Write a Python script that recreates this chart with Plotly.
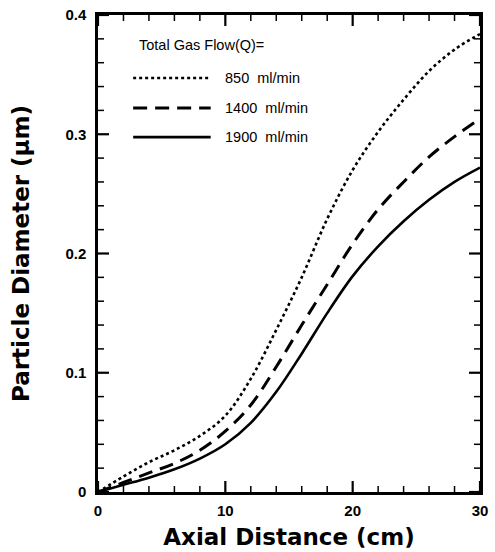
import plotly.graph_objects as go

# Axial positions (cm) and particle diameters (um) for three total gas flows
axial_cm = [0, 2, 4, 6, 8, 10, 12, 14, 16, 18, 20, 22, 24, 26, 28, 30]
d_850 = [0, 0.013, 0.025, 0.035, 0.047, 0.064, 0.095, 0.136, 0.180, 0.229,
         0.270, 0.302, 0.329, 0.353, 0.371, 0.384]
d_1400 = [0, 0.008, 0.016, 0.024, 0.035, 0.051, 0.073, 0.105, 0.140, 0.174,
          0.208, 0.237, 0.260, 0.281, 0.298, 0.313]
d_1900 = [0, 0.006, 0.012, 0.019, 0.028, 0.040, 0.058, 0.084, 0.116, 0.150,
          0.181, 0.206, 0.227, 0.245, 0.260, 0.272]

series_names = ["850  ml/min", "1400  ml/min", "1900  ml/min"]
series_values = [d_850, d_1400, d_1900]
series_dash = ["dot", "14px,8px", "solid"]
series_width = [2.6, 3.0, 2.6]

legend_title = "Total Gas Flow(Q)="
x_title = "Axial Distance (cm)"
y_title = "Particle Diameter (\u03bcm)"
x_major = [0, 10, 20, 30]
x_labels = ["0", "10", "20", "30"]
x_minor = list(range(0, 31, 2))
y_major = [0, 0.1, 0.2, 0.3, 0.4]
y_labels = ["0", "0.1", "0.2", "0.3", "0.4"]
y_minor = [round(0.02 * i, 2) for i in range(21)]

X_RANGE = [0, 30]
Y_RANGE = [0, 0.4]
PLOT_W, PLOT_H = 382, 477  # plot area in pixels

fig = go.Figure()
for name, vals, dash, w in zip(series_names, series_values, series_dash, series_width):
    fig.add_trace(go.Scatter(
        x=axial_cm, y=vals, mode="lines", name=name,
        line=dict(color="black", width=w, dash=dash, shape="spline", smoothing=1.0),
        showlegend=False, hoverinfo="skip",
    ))

# Inward tick marks on all four sides, as data-referenced line shapes
def add_ticks(xs_ticks, ys_ticks, len_px, width):
    dy = len_px / PLOT_H * (Y_RANGE[1] - Y_RANGE[0])
    dx = len_px / PLOT_W * (X_RANGE[1] - X_RANGE[0])
    style = dict(color="black", width=width)
    for v in xs_ticks:
        fig.add_shape(type="line", xref="x", yref="y", x0=v, x1=v,
                      y0=Y_RANGE[0], y1=Y_RANGE[0] + dy, line=style, layer="above")
        fig.add_shape(type="line", xref="x", yref="y", x0=v, x1=v,
                      y0=Y_RANGE[1], y1=Y_RANGE[1] - dy, line=style, layer="above")
    for v in ys_ticks:
        fig.add_shape(type="line", xref="x", yref="y", y0=v, y1=v,
                      x0=X_RANGE[0], x1=X_RANGE[0] + dx, line=style, layer="above")
        fig.add_shape(type="line", xref="x", yref="y", y0=v, y1=v,
                      x0=X_RANGE[1], x1=X_RANGE[1] - dx, line=style, layer="above")

add_ticks([v for v in x_minor if v not in x_major],
          [v for v in y_minor if v not in y_major], 6, 1.5)
add_ticks(x_major, y_major, 11, 2.2)

# Legend block in the upper-left of the plot area
legend_x0, legend_x1, text_x = 0.092, 0.295, 0.327
row_y = [0.868, 0.805, 0.744]
fig.add_annotation(x=0.102, y=0.937, xref="paper", yref="paper",
                   text=legend_title, showarrow=False, xanchor="left", yanchor="middle",
                   font=dict(family="Liberation Sans", size=14.5, color="black"))
for name, dash, w, yy in zip(series_names, series_dash, series_width, row_y):
    fig.add_shape(type="line", xref="paper", yref="paper",
                  x0=legend_x0, x1=legend_x1, y0=yy, y1=yy,
                  line=dict(color="black", width=w, dash=dash))
    fig.add_annotation(x=text_x, y=yy, xref="paper", yref="paper",
                       text=name, showarrow=False, xanchor="left", yanchor="middle",
                       font=dict(family="Liberation Sans", size=14.5, color="black"))

def bold(labels):
    return ["<b>" + s + "</b>" for s in labels]

tick_font = dict(family="Liberation Sans", size=15, color="black")
title_font = dict(family="DejaVu Sans", size=23, color="black")

fig.update_xaxes(
    range=X_RANGE, tickmode="array", tickvals=x_major, ticktext=bold(x_labels),
    showline=True, linecolor="black", linewidth=2.5, mirror=True,
    ticks="", showgrid=False, zeroline=False, tickfont=tick_font,
    ticklabelstandoff=3, automargin=False,
    title=dict(text="<b>" + x_title + "</b>", standoff=12, font=title_font),
)
fig.update_yaxes(
    range=Y_RANGE, tickmode="array", tickvals=y_major, ticktext=bold(y_labels),
    showline=True, linecolor="black", linewidth=2.5, mirror=True,
    ticks="", showgrid=False, zeroline=False, tickfont=tick_font,
    ticklabelstandoff=6, automargin=False,
    title=dict(text="<b>" + y_title + "</b>", standoff=30, font=title_font),
)

fig.update_layout(
    width=495, height=552,
    margin=dict(l=98, r=15, t=15, b=60),
    paper_bgcolor="white", plot_bgcolor="white",
)

fig.write_html("out.html")
